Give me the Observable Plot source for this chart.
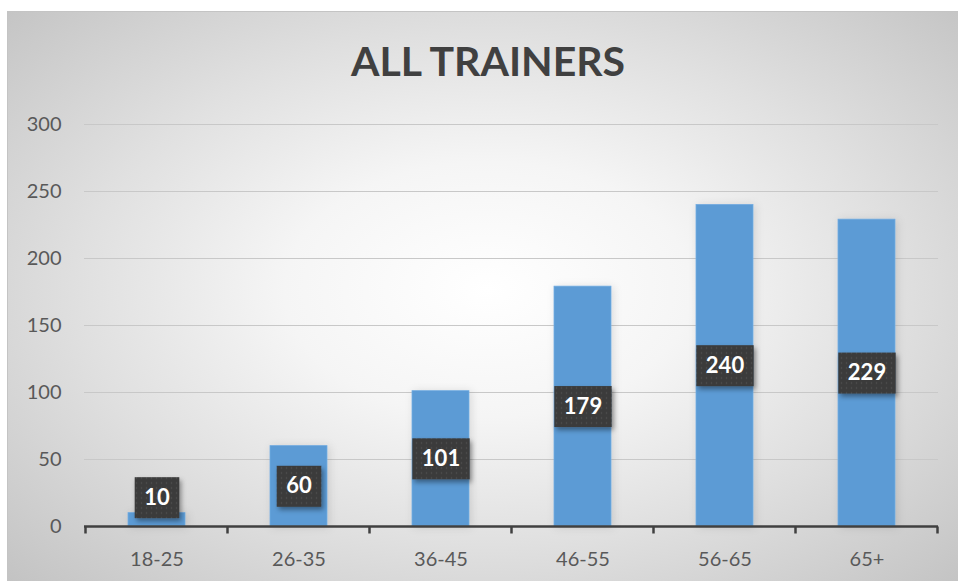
<!DOCTYPE html>
<html><head><meta charset="utf-8">
<script src="https://cdn.jsdelivr.net/npm/d3@7"></script>
<script src="https://cdn.jsdelivr.net/npm/@observablehq/plot@0.6"></script>
<style>
html,body{margin:0;padding:0;width:958px;height:581px;overflow:hidden;background:#fff;font-family:Lato,sans-serif}
#frame{position:absolute;left:7px;top:11px;width:962px;height:580px;box-sizing:border-box;border:1px solid #c4c4c4;
  background:radial-gradient(ellipse farthest-corner at 50% 48%, #ffffff 0%, #f5f5f5 30%, #e0e0e0 60%, #c2c2c2 100%)}
#title{position:absolute;left:7px;width:962px;top:40px;text-align:center;font:700 41px Lato,sans-serif;color:#404040;line-height:1;margin:0}
#chart{position:absolute;left:0;top:100px}
</style></head>
<body>
<div id="frame"></div>
<div id="title">ALL TRAINERS</div>
<div id="chart"></div>
<script>
const ageGroups = ["18-25","26-35","36-45","46-55","56-65","65+"];
const trainerCounts = [10,60,101,179,240,229];
const yTicks = [0,50,100,150,200,250,300];
const data = ageGroups.map((age,i)=>({age, count: trainerCounts[i]}));
const NS = "http://www.w3.org/2000/svg";

function tickRender(index, scales, values, dims, context, next) {
  const g = next(index, scales, values, dims, context);
  const x = scales.x, y0 = scales.y(0);
  const bw = x.bandwidth();
  const step = x.step ? x.step() : bw / 0.4;
  const xs = ageGroups.map(a => x(a) - (step - bw) / 2);
  xs.push(x(ageGroups[ageGroups.length-1]) + bw + (step - bw) / 2);
  for (const xx of xs) {
    const l = document.createElementNS(NS, "line");
    l.setAttribute("x1", xx); l.setAttribute("x2", xx);
    l.setAttribute("y1", y0); l.setAttribute("y2", y0 + 7);
    l.setAttribute("stroke", "#404040"); l.setAttribute("stroke-width", 2.5);
    g.appendChild(l);
  }
  return g;
}

function barRender(index, scales, values, dims, context, next) {
  const g = next(index, scales, values, dims, context);
  const defs = document.createElementNS(NS, "defs");
  defs.innerHTML = `<filter id="barShadow" x="-40%" y="-10%" width="180%" height="120%">
      <feDropShadow dx="2" dy="1" stdDeviation="4" flood-color="#000" flood-opacity="0.12"/></filter>`;
  g.insertBefore(defs, g.firstChild);
  g.setAttribute("filter", "url(#barShadow)");
  return g;
}

function boxRender(index, scales, values, dims, context, next) {
  const g = next(index, scales, values, dims, context);
  const defs = document.createElementNS(NS, "defs");
  defs.innerHTML = `<pattern id="lblDots" width="5" height="5" patternUnits="userSpaceOnUse">
      <rect width="5" height="5" fill="#3a3a3a"/><circle cx="2.5" cy="2.5" r="0.7" fill="#555555"/></pattern>
    <filter id="lblShadow" x="-30%" y="-30%" width="170%" height="170%">
      <feDropShadow dx="2" dy="3" stdDeviation="2.5" flood-color="#000" flood-opacity="0.4"/></filter>`;
  const first = g.firstChild;
  g.insertBefore(defs, first);
  for (const i of index) {
    const label = String(data[i].count);
    const w = label.length * 12.8 + 19, h = 41;
    const r = document.createElementNS(NS, "rect");
    r.setAttribute("x", values.x[i] - w / 2);
    r.setAttribute("y", values.y[i] - h / 2);
    r.setAttribute("width", w); r.setAttribute("height", h);
    r.setAttribute("fill", "url(#lblDots)");
    r.setAttribute("filter", "url(#lblShadow)");
    r.setAttribute("stroke", "none");
    g.insertBefore(r, first);
  }
  return g;
}

const chart = Plot.plot({
  width: 958, height: 481,
  marginLeft: 84, marginRight: 20, marginTop: 24, marginBottom: 55,
  style: {background: "transparent", fontFamily: "Lato, sans-serif", fontSize: "20px", color: "#595959", overflow: "visible"},
  x: {domain: ageGroups, paddingInner: 0.6, paddingOuter: 0.3, label: null},
  y: {domain: [0, 300], label: null},
  marks: [
    Plot.gridY(yTicks, {stroke: "#c8c8c8", strokeOpacity: 1, strokeWidth: 1.2}),
    Plot.axisY(yTicks, {tickSize: 0, tickPadding: 23, fontSize: 20, fill: "#595959", label: null}),
    Plot.axisX({tickSize: 0, tickPadding: 25, fontSize: 20, fill: "#595959", label: null}),
    Plot.barY(data, {x: "age", y: "count", fill: "#5B9BD5", stroke: "#74ace0", strokeWidth: 0.8, render: barRender}),
    Plot.ruleY([0], {stroke: "#404040", strokeWidth: 2.5, render: tickRender}),
    Plot.text(data, {x: "age", y: d => Math.max(d.count / 2, 21.5), text: d => String(d.count),
      fill: "white", fontWeight: "bold", fontSize: 22, render: boxRender})
  ]
});
document.getElementById("chart").appendChild(chart);
</script>
</body></html>
